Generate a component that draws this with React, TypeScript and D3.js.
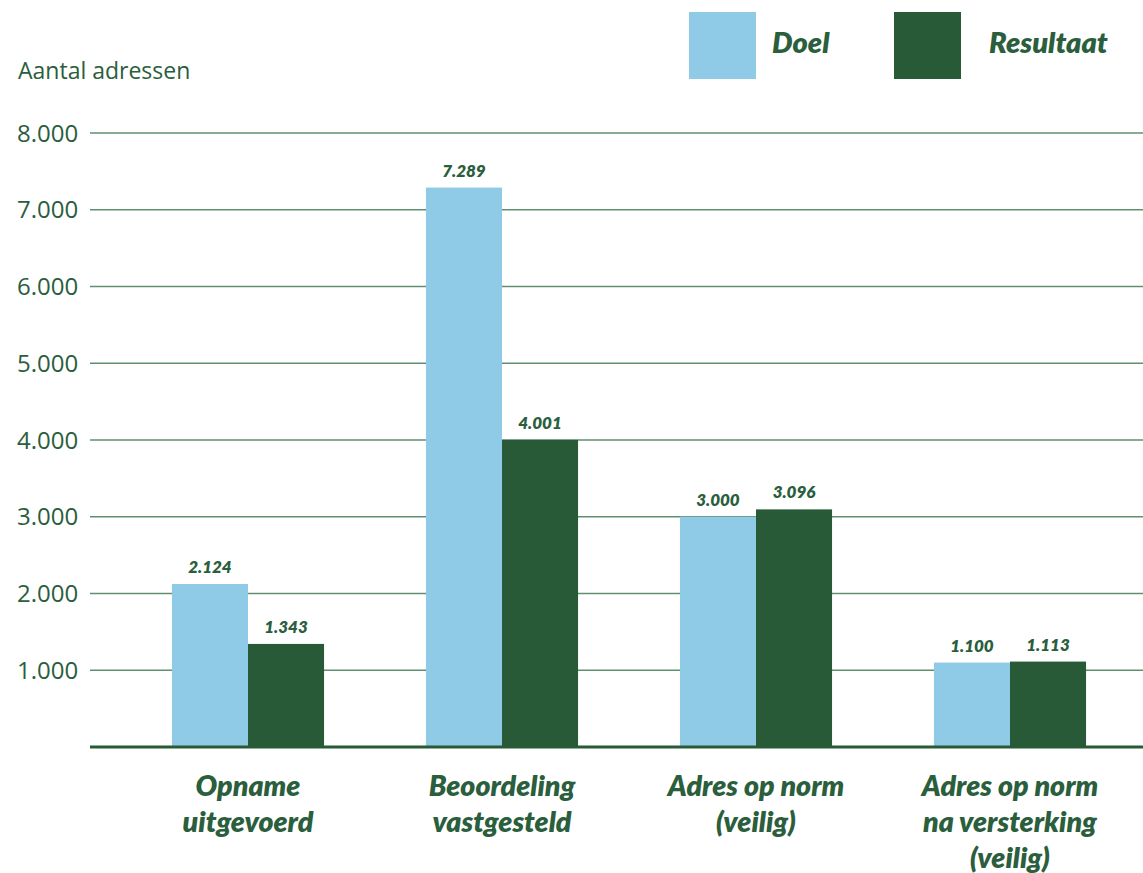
import React from "react";
import * as d3 from "d3";

const categories: string[][] = [
  ["Opname", "uitgevoerd"],
  ["Beoordeling", "vastgesteld"],
  ["Adres op norm", "(veilig)"],
  ["Adres op norm", "na versterking", "(veilig)"],
];
const seriesNames = ["Doel", "Resultaat"];
const doel = [2124, 7289, 3000, 1100];
const resultaat = [1343, 4001, 3096, 1113];
const yTicks = [1000, 2000, 3000, 4000, 5000, 6000, 7000, 8000];
const yTitle = "Aantal adressen";

const W = 1143;
const H = 873;
const LIGHT = "#8fcae6";
const DARK = "#285a37";
const TEXT = "#2a5e3c";
const GRID = "#5f8f6f";
const FONT = "'Open Sans', Lato, sans-serif";
const FONT_B = "Lato, 'Open Sans', sans-serif";

const fmt = (v: number) => d3.format(",")(v).replace(/,/g, ".");

export default function App() {
  const y = d3.scaleLinear().domain([0, 8000]).range([747, 133]);
  const x0 = d3
    .scaleBand<number>()
    .domain(categories.map((_, i) => i))
    .range([121, 1137])
    .padding(0);
  const x1 = d3
    .scaleBand<string>()
    .domain(seriesNames)
    .range([0, x0.bandwidth()])
    .paddingInner(0)
    .paddingOuter(0.67);
  const values = [doel, resultaat];
  const colors = [LIGHT, DARK];

  return (
    <svg width={W} height={H} style={{ position: "absolute", left: 0, top: 0, background: "#fff" }}>
      {/* y title */}
      <text x={18} y={79} fontFamily={FONT} fontSize={23} fill={TEXT}>
        {yTitle}
      </text>
      {/* grid + tick labels */}
      {yTicks.map((t) => (
        <g key={t}>
          <line x1={90} x2={W} y1={y(t)} y2={y(t)} stroke={GRID} strokeWidth={1.5} />
          <text x={17} y={y(t) + 8.5} fontFamily={FONT} fontSize={24} fill={TEXT}>
            {fmt(t)}
          </text>
        </g>
      ))}
      {/* bars */}
      {categories.map((_, i) =>
        seriesNames.map((s, j) => {
          const v = values[j][i];
          const bx = (x0(i) ?? 0) + (x1(s) ?? 0);
          return (
            <g key={`${i}-${j}`}>
              <rect x={bx} y={y(v)} width={x1.bandwidth()} height={y(0) - y(v)} fill={colors[j]} />
              <text
                x={bx + x1.bandwidth() / 2}
                y={y(v) - 11}
                textAnchor="middle"
                fontFamily={FONT_B}
                fontWeight={800}
                fontStyle="italic"
                fontSize={17}
                fill={TEXT}
              >
                {fmt(v)}
              </text>
            </g>
          );
        })
      )}
      {/* baseline */}
      <line x1={90} x2={W} y1={y(0)} y2={y(0)} stroke={DARK} strokeWidth={3} />
      {/* category labels */}
      {categories.map((lines, i) => (
        <text
          key={i}
          textAnchor="middle"
          fontFamily={FONT_B}
          fontWeight={800}
          fontStyle="italic"
          fontSize={28.5}
          fill={TEXT}
        >
          {lines.map((l, k) => (
            <tspan key={k} x={(x0(i) ?? 0) + x0.bandwidth() / 2} y={796 + k * 36}>
              {l}
            </tspan>
          ))}
        </text>
      ))}
      {/* legend */}
      {seriesNames.map((s, j) => {
        const lx = [689, 894][j];
        const tx = [772, 989][j];
        return (
          <g key={s}>
            <rect x={lx} y={12} width={67} height={67} fill={colors[j]} />
            <text x={tx} y={53} fontFamily={FONT_B} fontWeight={800} fontStyle="italic" fontSize={29} fill={TEXT}>
              {s}
            </text>
          </g>
        );
      })}
    </svg>
  );
}
